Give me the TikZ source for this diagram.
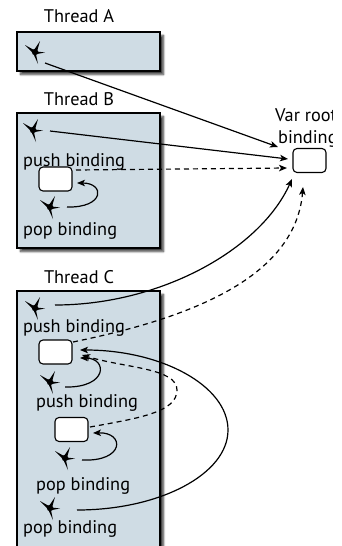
\documentclass[tikz,border=0pt]{standalone}
\usepackage{fontspec}
\setmainfont{PT Sans}
\usetikzlibrary{arrows.meta,shadows.blur}
\definecolor{tfill}{RGB}{207,220,228}
\tikzset{
  threadbox/.style={draw=black,line width=1.3pt,fill=tfill,rectangle,inner sep=0pt,
    blur shadow={shadow xshift=3.5pt,shadow yshift=-3.5pt,shadow opacity=75,shadow blur steps=6}},
  bindbox/.style={draw=black,line width=1.1pt,fill=white,rounded corners=4pt,minimum width=33pt,minimum height=24pt,inner sep=0pt},
  lbl/.style={anchor=base west,inner sep=0pt,font=\fontsize{18.3}{19}\selectfont},
  ttl/.style={anchor=base,inner sep=0pt,font=\fontsize{18.3}{19}\selectfont},
  arr/.style={line width=1.2pt,-{Stealth[length=8pt,width=6.5pt,inset=2pt]}},
  darr/.style={arr,dash pattern=on 5pt off 4pt},
  spark/.pic={
    \fill (-10,-7) -- (-1,-2) -- (5,-11) -- (2,-0.5) -- (10,0.5) -- (1,2.2) -- (3,12) -- (-2,1) -- cycle;
    \fill (0,0) circle (3.2);
  }
}
\begin{document}
\begin{tikzpicture}[x=1pt,y=-1pt]
\useasboundingbox (0,0) rectangle (341,546);
\clip (0,0) rectangle (341,546);
% thread boxes
\node[threadbox,minimum width=143pt,minimum height=39pt] (tA) at (88.5,51.5) {};
\node[threadbox,minimum width=143pt,minimum height=135pt] (tB) at (88.5,180.5) {};
\node[threadbox,minimum width=143pt,minimum height=279pt] (tC) at (88.5,430.5) {};
% titles
\node[ttl] (ttA) at (79,23) {Thread A};
\node[ttl] (ttB) at (79,105) {Thread B};
\node[ttl] (ttC) at (79,283) {Thread C};
% var root
\node[bindbox] (v) at (309.5,160.5) {};
\begin{scope}
\clip (0,0) rectangle (332.5,546);
\node[anchor=base west,inner sep=0pt,font=\fontsize{18.3}{22}\selectfont] (vt1) at (275,121) {Var root};
\node[anchor=base west,inner sep=0pt,font=\fontsize{18.3}{22}\selectfont] (vt2) at (278,143) {binding};
\end{scope}
% binding boxes
\node[bindbox] (bB1) at (55.5,179) {};
\node[bindbox] (bC1) at (55.5,352) {};
\node[bindbox] (bC2) at (71.5,429.5) {};
% sparks
\coordinate (sA) at (35,52);
\coordinate (sB1) at (33,130);
\coordinate (sB2) at (50,207);
\coordinate (sC1) at (35,308);
\coordinate (sC2) at (50,382);
\coordinate (sC3) at (65,458);
\coordinate (sC4) at (50,508);
\foreach \s in {sA,sB1,sB2,sC1,sC2,sC3,sC4} \pic at (\s) {spark};
% labels
\node[lbl] (lB1) at (23,166) {push binding};
\node[lbl] (lB2) at (23,235) {pop binding};
\node[lbl] (lC1) at (23,332) {push binding};
\node[lbl] (lC2) at (36,407) {push binding};
\node[lbl] (lC3) at (36,490) {pop binding};
\node[lbl] (lC4) at (23,533) {pop binding};
% connectors
\draw[arr] ([shift={(10,11)}]sA) -- ([shift={(-31.5,-13.5)}]v.center);
\draw[arr] ([shift={(17,1)}]sB1) -- ([shift={(-21.5,-1.5)}]v.center);
\draw[darr] ([shift={(20.5,-9)}]bB1.center) -- ([shift={(-22.5,7.5)}]v.center);
\draw[arr] ([shift={(17,0)}]sB2) .. controls (105,208) and (105,183) .. ([shift={(21.5,4)}]bB1.center);
\draw[arr] ([shift={(20,-3)}]sC1) .. controls (160,305) and (260,250) .. ([shift={(-17.5,18.5)}]v.center);
\draw[darr] ([shift={(17.5,-10)}]bC1.center) .. controls (170,322) and (295,285) .. ([shift={(-6.5,26.5)}]v.center);
\draw[arr] ([shift={(15,5)}]sC2) .. controls (108,388) and (108,358) .. ([shift={(24.5,6)}]bC1.center);
\draw[darr] ([shift={(18.5,-2.5)}]bC2.center) .. controls (140,418) and (177,412) .. (177,390) .. controls (177,368) and (125,368) .. ([shift={(26.5,3)}]bC1.center);
\draw[arr] ([shift={(17,2)}]sC3) .. controls (125,462) and (125,432) .. ([shift={(21.5,3.5)}]bC2.center);
\draw[arr] ([shift={(27,2)}]sC4) .. controls (160,510) and (228,474) .. (228,430) .. controls (228,386) and (162,350) .. ([shift={(24.5,-2)}]bC1.center);
\end{tikzpicture}
\end{document}
